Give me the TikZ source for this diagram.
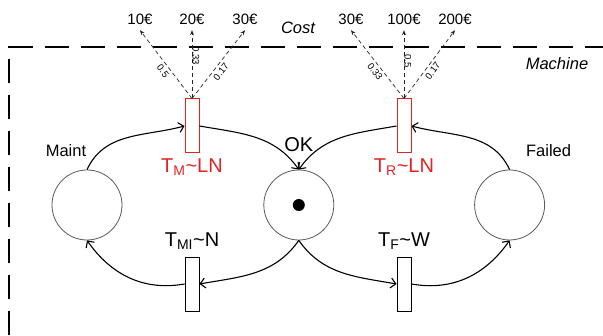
\documentclass[tikz,border=0pt]{standalone}
\usepackage{fontspec}
\setmainfont{Liberation Sans}
\usetikzlibrary{positioning, arrows.meta}
\definecolor{tred}{RGB}{225,35,35}

\begin{document}
\begin{tikzpicture}[
    x=1pt, y=1pt, > = {Straight Barb[length=5pt, width=10pt]},
    place/.style={circle, draw=gray!70!black, line width=0.8pt, minimum size=70pt, inner sep=0pt},
    trans/.style={rectangle, draw=black, line width=0.9pt, minimum width=14pt, minimum height=54pt, inner sep=0pt},
    timed/.style={rectangle, draw=tred, line width=1pt, minimum width=14pt, minimum height=54pt, inner sep=0pt},
    token/.style={circle, fill, minimum size=12pt, inner sep=0pt},
    arc/.style={->, line width=1.1pt},
    prob/.style={-{Stealth[length=5pt, width=4pt]}, gray!30!black, line width=0.7pt, dash pattern=on 4pt off 3pt},
    plabel/.style={font=\fontsize{9.5}{10}\selectfont, text=black, inner sep=0.3pt},
    cost/.style={font=\fontsize{15}{16}\selectfont, inner xsep=1pt, inner ysep=5pt, text depth=0pt, anchor=base},
    tlabel/.style={font=\fontsize{20}{22}\selectfont, anchor=base},
    plabelname/.style={font=\fontsize{16.5}{18}\selectfont, anchor=base}
]
    \useasboundingbox (0,0) rectangle (603,336);

    % frame of the machine
    \draw[line width=1.3pt, dash pattern=on 24pt off 12pt] (9,0.5) -- (9,289) -- (603,289);
    \node[font=\itshape\fontsize{16.5}{18}\selectfont, anchor=base] (costtxt) at (298,302) {Cost};
    \node[font=\itshape\fontsize{16.5}{18}\selectfont, anchor=base] (machtxt) at (557,266) {Machine};

    % places
    \node[place] (Maint) at (87,131) {};
    \node[place, right=141pt of Maint] (OK) {};
    \node[place, right=140pt of OK] (Failed) {};
    \node[token] (tok) at (OK.center) {};

    \node[plabelname] at (Maint.north) [xshift=-21pt, yshift=13pt] {Maint};
    \node[plabelname] at (Failed.north) [xshift=39pt, yshift=13pt] {Failed};
    \node[tlabel] at (OK.north) [yshift=18pt] {OK};

    % transitions
    \node[timed] (TM) at (192,210) {};
    \node[timed] (TR) at (404,210) {};
    \node[trans] (TMI) at (192,52) {};
    \node[trans] (TF) at (404,52) {};

    \node[tlabel, text=tred] at (TM.south) [yshift=-19pt] {T\textsubscript{M}\textasciitilde LN};
    \node[tlabel, text=tred] at (TR.south) [yshift=-19pt] {T\textsubscript{R}\textasciitilde LN};
    \node[tlabel] at (TMI.north) [yshift=10pt] {T\textsubscript{MI}\textasciitilde N};
    \node[tlabel] at (TF.north) [yshift=10pt] {T\textsubscript{F}\textasciitilde W};

    % arcs
    \draw[arc] (Maint.north) to[out=65, in=195] (TM.west);
    \draw[arc] (TM.east) to[out=-10, in=125] (OK.north);
    \draw[arc] (Failed.north) to[out=115, in=-15] (TR.east);
    \draw[arc] (TR.west) to[out=190, in=55] (OK.north);
    \draw[arc] (OK.south) to[out=235, in=10] (TMI.east);
    \draw[arc] (TMI.west) to[out=190, in=-55] (Maint.south);
    \draw[arc] (OK.south) to[out=-55, in=170] (TF.west);
    \draw[arc] (TF.east) to[out=-10, in=235] (Failed.south);

    % costs
    \node[cost] (c10) at (140,311) {10€};
    \node[cost] (c20) at (192,311) {20€};
    \node[cost] (c30) at (245,311) {30€};
    \node[cost] (r30) at (351,311) {30€};
    \node[cost] (r100) at (404,311) {100€};
    \node[cost] (r200) at (455,311) {200€};

    \draw[prob] (TM.north) -- node[plabel, pos=0.46, sloped, below=2.5pt] {0.5} (c10.south);
    \draw[prob] (TM.north) -- node[plabel, pos=0.59, rotate=-90, above=2.5pt] {0.33} (c20.south);
    \draw[prob] (TM.north) -- node[plabel, pos=0.45, sloped, below=2.5pt] {0.17} (c30.south);
    \draw[prob] (TR.north) -- node[plabel, pos=0.45, sloped, below=2.5pt] {0.33} (r30.south);
    \draw[prob] (TR.north) -- node[plabel, pos=0.51, rotate=-90, above=2.5pt] {0.5} (r100.south);
    \draw[prob] (TR.north) -- node[plabel, pos=0.46, sloped, below=2.5pt] {0.17} (r200.south);
\end{tikzpicture}
\end{document}
